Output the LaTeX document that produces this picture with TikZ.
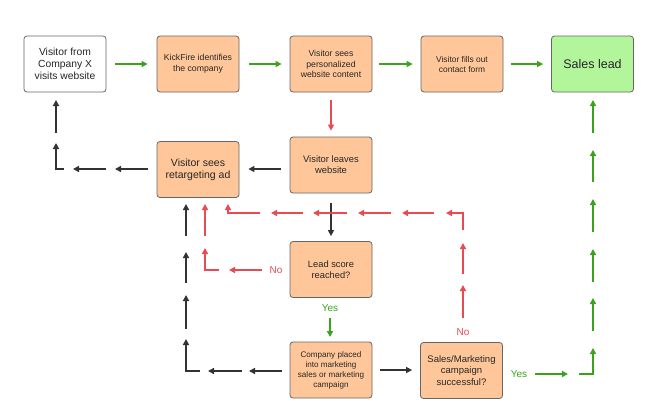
\documentclass[tikz,border=0pt]{standalone}
\usepackage{fontspec}
\setmainfont{Liberation Sans}
\usetikzlibrary{arrows.meta}
\definecolor{peach}{HTML}{FFC799}
\definecolor{leadgreen}{HTML}{B3F59B}
\definecolor{arrgreen}{HTML}{3AA31B}
\definecolor{arrred}{HTML}{EA4A52}
\definecolor{arrdark}{HTML}{333333}
\definecolor{boxborder}{HTML}{666666}
\begin{document}
\begin{tikzpicture}[x=1pt,y=-1pt,
  box/.style={draw=boxborder, line width=0.8pt, rounded corners=3pt,
    minimum width=82pt, minimum height=56pt, inner sep=2pt, align=center, text=black!85},
  obox/.style={box, fill=peach},
  arr/.style={line width=1.4pt, -{Triangle[length=6pt,width=6pt]}},
  garr/.style={arr, draw=arrgreen, color=arrgreen},
  rarr/.style={arr, draw=arrred, color=arrred},
  darr/.style={arr, draw=arrdark, color=arrdark},
  lbl/.style={font=\fontsize{10}{12}\selectfont, inner sep=0pt}
]
\fill[white] (0,0) rectangle (667,416);
\useasboundingbox (0,0) rectangle (667,416);

% boxes
\node[box, fill=white, font=\fontsize{10.3}{12}\selectfont] (b1) at (65,64) {Visitor from\\Company X\\visits website};
\node[obox, font=\fontsize{8.7}{11}\selectfont] (b2) at (198,64) {KickFire identifies\\the company};
\node[obox, font=\fontsize{8.7}{10.5}\selectfont] (b3) at (331,64) {Visitor sees\\personalized\\website content};
\node[obox, font=\fontsize{8.4}{10}\selectfont] (b4) at (462,64) {Visitor fills out\\contact form};
\node[box, fill=leadgreen, font=\fontsize{12.5}{14}\selectfont] (b5) at (592.5,64) {Sales lead};
\node[obox, font=\fontsize{10.5}{12}\selectfont] (b6) at (198,169.5) {Visitor sees\\retargeting ad};
\node[obox, font=\fontsize{9.4}{11}\selectfont] (b7) at (331,165) {Visitor leaves\\website};
\node[obox, font=\fontsize{9.3}{11.5}\selectfont] (b8) at (331,269.5) {Lead score\\reached?};
\node[obox, font=\fontsize{8.1}{10}\selectfont] (b9) at (331,370) {Company placed\\into marketing\\sales or marketing\\campaign};
\node[obox, font=\fontsize{9.5}{11.5}\selectfont] (b10) at (461.5,370.5) {Sales/Marketing\\campaign\\successful?};

% labels
\node[lbl, text=arrred] (no1) at (276,270) {No};
\node[lbl, text=arrred] (no2) at (463,332) {No};
\node[lbl, text=arrgreen] (yes1) at (330,308) {Yes};
\node[lbl, text=arrgreen] (yes2) at (519,374) {Yes};

% top row green
\draw[garr, shorten <=9pt, shorten >=9pt] (b1) -- (b2);
\draw[garr, shorten <=10pt, shorten >=8pt] (b2) -- (b3);
\draw[garr, shorten <=7pt, shorten >=8pt] (b3) -- (b4);
\draw[garr, shorten <=8pt, shorten >=8pt] (b4) -- (b5);

% b3 -> b7 red
\draw[rarr, shorten <=8pt, shorten >=6pt] (b3) -- (b7);

% b7 -> b6 dark
\draw[darr, shorten <=9pt, shorten >=9pt] (b7.west |- 0,169) -- (b6.east |- 0,169);

% b6 -> b1 dark dashes
\draw[darr] (148,169) -- (115,169);
\draw[darr] (106,169) -- (73,169);
\draw[darr] (64,169) -- (56,169) -- (56,143);
\draw[darr] (56,133) -- (56,100);

% b7 -> b8 dark
\draw[darr, shorten <=10pt, shorten >=5pt] (b7) -- (b8);

% red return line from b10 to b6
\draw[rarr] (463,318) -- (463,285);
\draw[rarr] (463,274) -- (463,243);
\draw[rarr] (463,230) -- (463,213) -- (446,213);
\draw[rarr] (434,213) -- (402,213);
\draw[rarr] (391,213) -- (358,213);
\draw[rarr] (347,213) -- (313,213);
\draw[rarr] (303,213) -- (271,213);
\draw[rarr] (260,213) -- (228,213) -- (228,204);

% b8 No -> b6
\draw[rarr] (262,270) -- (229,270);
\draw[rarr] (219,270) -- (205,270) -- (205,248);
\draw[rarr] (205,236) -- (205,204);

% b8 Yes -> b9
\draw[garr] (330,318) -- (330,337);

% b9 -> b6 dark
\draw[darr] (282,371) -- (249,371);
\draw[darr] (242,371) -- (208,371);
\draw[darr] (200,371) -- (186,371) -- (186,339);
\draw[darr] (186,329) -- (186,295);
\draw[darr] (186,283) -- (186,252);
\draw[darr] (186,236) -- (186,204);

% b9 -> b10
\draw[darr, shorten <=8pt, shorten >=8pt] (b9.east |- 0,370) -- (b10.west |- 0,370);

% b10 Yes -> b5
\draw[garr] (535,374) -- (568,374);
\draw[garr] (579,374) -- (593,374) -- (593,348);
\draw[garr] (593,331) -- (593,298);
\draw[garr] (593,282) -- (593,249);
\draw[garr] (593,232) -- (593,199);
\draw[garr] (593,182) -- (593,150);
\draw[garr] (593,133) -- (593,100);
\end{tikzpicture}
\end{document}
